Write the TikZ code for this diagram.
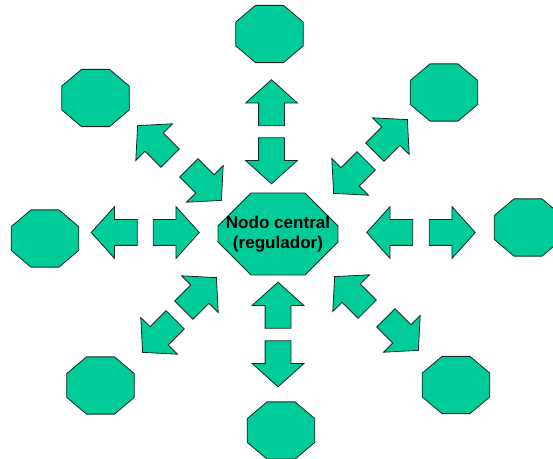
\documentclass[tikz,border=0pt]{standalone}
\usepackage{fontspec}
\setmainfont{Liberation Sans}
\usetikzlibrary{shapes.arrows,shapes.misc,shapes.geometric}
\definecolor{ndgreen}{RGB}{0,204,153}
\definecolor{ndline}{RGB}{20,40,35}

\begin{document}
\begin{tikzpicture}[x=0.75pt, y=-0.75pt,
        octnode/.style={regular polygon, regular polygon sides=8, inner sep=0pt,
          minimum size=46.5pt, xscale=1.18, fill=ndgreen, draw=ndline, line width=0.6pt},
        hubnode/.style={chamfered rectangle, chamfered rectangle xsep=14pt,
          chamfered rectangle ysep=11pt, inner xsep=-7.9pt, inner ysep=0pt,
          minimum height=61.5pt, fill=ndgreen, draw=ndline, line width=0.6pt,
          align=center, font=\fontsize{12.8}{15.5}\selectfont\bfseries},
        arrowbox/.style={single arrow, single arrow head extend=9.75pt,
          single arrow tip angle=96, minimum height=34.5pt, minimum width=38.25pt,
          inner xsep=0pt, inner ysep=9.375pt, fill=ndgreen, draw=ndline, line width=0.6pt}
      ]
      \useasboundingbox (0,0) rectangle (553,459);
      % central node
      \node[hubnode] (hub) at (278,234) {Nodo central\\(regulador)};
      % outer nodes
      \node[octnode] (n) at (269.5,34) {};
      \node[octnode] (ne) at (444,92.5) {};
      \node[octnode] (e) at (528,227.5) {};
      \node[octnode] (se) at (456,385) {};
      \node[octnode] (s) at (281,430.5) {};
      \node[octnode] (sw) at (100.5,385.5) {};
      \node[octnode] (w) at (45,238.5) {};
      \node[octnode] (nw) at (95.5,98) {};
      % arrows, outer one first
      \node[arrowbox, rotate=90] (nOut) at (271.5,108.5) {};
      \node[arrowbox, rotate=-90] (nIn) at (271.5,155) {};
      \node[arrowbox, rotate=45] (neOut) at (387,140) {};
      \node[arrowbox, rotate=225] (neIn) at (354,173) {};
      \node[arrowbox] (eOut) at (446.5,232.5) {};
      \node[arrowbox, rotate=180] (eIn) at (395.5,232.5) {};
      \node[arrowbox, rotate=-45] (seOut) at (398,330) {};
      \node[arrowbox, rotate=135] (seIn) at (355,297) {};
      \node[arrowbox, rotate=-90] (sOut) at (278,358) {};
      \node[arrowbox, rotate=90] (sIn) at (278,311) {};
      \node[arrowbox, rotate=225] (swOut) at (163,332) {};
      \node[arrowbox, rotate=45] (swIn) at (196,298) {};
      \node[arrowbox, rotate=180] (wOut) at (120,232.5) {};
      \node[arrowbox] (wIn) at (170.5,232.5) {};
      \node[arrowbox, rotate=135] (nwOut) at (158,146) {};
      \node[arrowbox, rotate=-45] (nwIn) at (201,180) {};
    \end{tikzpicture}
\end{document}
